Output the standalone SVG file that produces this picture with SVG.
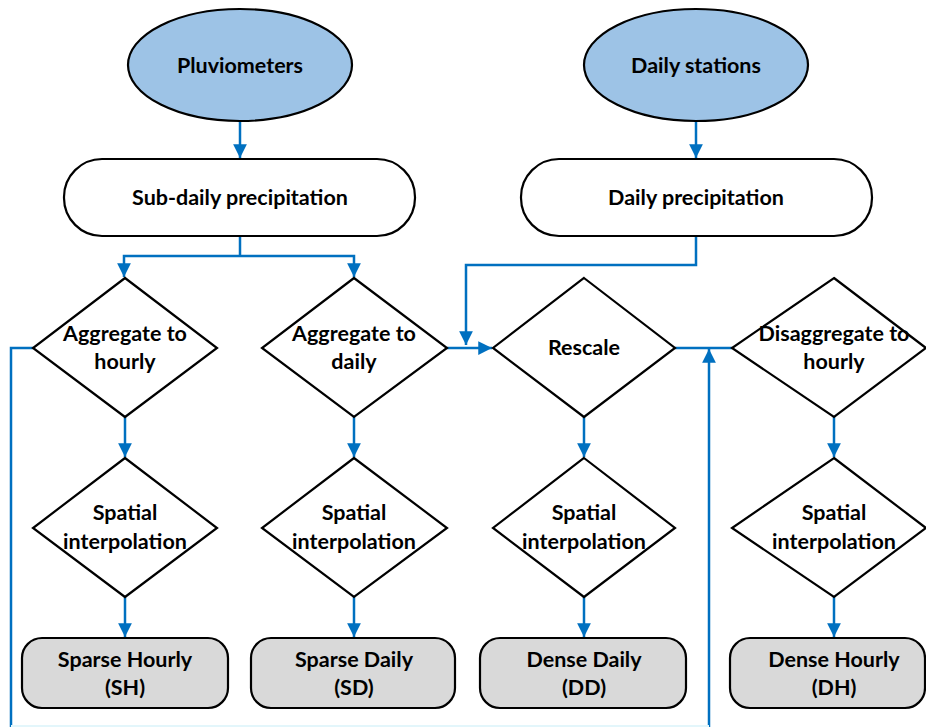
<svg xmlns="http://www.w3.org/2000/svg" width="926" height="727" viewBox="0 0 926 727">
<style>
.src{fill:#9dc3e6;stroke:#000;stroke-width:2.2}
.box{fill:#fff;stroke:#000;stroke-width:2.2}
.dia{fill:#fff;stroke:#000;stroke-width:2.2}
.res{fill:#d9d9d9;stroke:#000;stroke-width:2.2}
.lbl{font-family:Lato,"Open Sans","Liberation Sans",sans-serif;font-weight:bold;font-size:21.5px;fill:#000;text-anchor:middle}
.c{fill:none;stroke:#0070c0;stroke-width:2.5}
</style>
<defs>
<marker id="ah" viewBox="0 0 10 10" refX="10" refY="5" markerWidth="5.5" markerHeight="5.5" markerUnits="strokeWidth" orient="auto">
<path d="M0,0 L10,5 L0,10 z" fill="#0070c0"/>
</marker>
</defs>
<rect width="926" height="727" fill="#fff"/>
<g id="connectors">
<path class="c" d="M240,121 V158" marker-end="url(#ah)"/>
<path class="c" d="M696,121 V158" marker-end="url(#ah)"/>
<path class="c" d="M240,236 V256"/>
<path class="c" d="M240,256 H124 V277" marker-end="url(#ah)"/>
<path class="c" d="M240,256 H354 V277" marker-end="url(#ah)"/>
<path class="c" d="M696,236 V265 H466 V345" marker-end="url(#ah)"/>
<path class="c" d="M447,348 H492" marker-end="url(#ah)"/>
<path class="c" d="M675,348 H732"/>
<path class="c" d="M125,417 V457" marker-end="url(#ah)"/>
<path class="c" d="M354,417 V457" marker-end="url(#ah)"/>
<path class="c" d="M584,417 V457" marker-end="url(#ah)"/>
<path class="c" d="M834,417 V457" marker-end="url(#ah)"/>
<path class="c" d="M125,597 V637" marker-end="url(#ah)"/>
<path class="c" d="M354,597 V637" marker-end="url(#ah)"/>
<path class="c" d="M584,597 V637" marker-end="url(#ah)"/>
<path class="c" d="M834,597 V637" marker-end="url(#ah)"/>
<path class="c" d="M33,348 H11 V727"/>
<path class="c" d="M709,727 V349" marker-end="url(#ah)"/>
<line x1="11" y1="726" x2="709" y2="726" stroke="#e3f6fb" stroke-width="2"/>
</g>
<g id="pluviometers">
<ellipse class="src" cx="240" cy="65" rx="112" ry="56"/>
<text class="lbl" x="240" y="73">Pluviometers</text>
</g>
<g id="daily-stations">
<ellipse class="src" cx="696" cy="65" rx="112" ry="56"/>
<text class="lbl" x="696" y="73">Daily stations</text>
</g>
<g id="sub-daily-precipitation">
<rect class="box" x="64" y="159" width="351" height="77" rx="38"/>
<text class="lbl" x="240" y="205">Sub-daily precipitation</text>
</g>
<g id="daily-precipitation">
<rect class="box" x="521" y="159" width="351" height="77" rx="38"/>
<text class="lbl" x="696" y="205">Daily precipitation</text>
</g>
<g id="aggregate-hourly">
<polygon class="dia" points="125,278 217,348 125,417 33,348"/>
<text class="lbl" x="125" y="341">Aggregate to</text>
<text class="lbl" x="125" y="369">hourly</text>
</g>
<g id="aggregate-daily">
<polygon class="dia" points="354,278 447,348 354,417 262,348"/>
<text class="lbl" x="354" y="341">Aggregate to</text>
<text class="lbl" x="354" y="369">daily</text>
</g>
<g id="rescale">
<polygon class="dia" points="584,278 675,348 584,417 493,348"/>
<text class="lbl" x="584" y="355">Rescale</text>
</g>
<g id="disaggregate-hourly">
<polygon class="dia" points="834,278 926,348 834,417 732,348"/>
<text class="lbl" x="834" y="341">Disaggregate to</text>
<text class="lbl" x="834" y="369">hourly</text>
</g>
<g id="spatial-sh">
<polygon class="dia" points="125,458 217,528 125,597 33,528"/>
<text class="lbl" x="125" y="520">Spatial</text>
<text class="lbl" x="125" y="549">interpolation</text>
</g>
<g id="spatial-sd">
<polygon class="dia" points="354,458 447,528 354,597 262,528"/>
<text class="lbl" x="354" y="520">Spatial</text>
<text class="lbl" x="354" y="549">interpolation</text>
</g>
<g id="spatial-dd">
<polygon class="dia" points="584,458 675,528 584,597 493,528"/>
<text class="lbl" x="584" y="520">Spatial</text>
<text class="lbl" x="584" y="549">interpolation</text>
</g>
<g id="spatial-dh">
<polygon class="dia" points="834,458 926,528 834,597 732,528"/>
<text class="lbl" x="834" y="520">Spatial</text>
<text class="lbl" x="834" y="549">interpolation</text>
</g>
<g id="sparse-hourly">
<rect class="res" x="22" y="638" width="206" height="70" rx="20"/>
<text class="lbl" x="125" y="667">Sparse Hourly</text>
<text class="lbl" x="125" y="695">(SH)</text>
</g>
<g id="sparse-daily">
<rect class="res" x="251" y="638" width="204" height="70" rx="20"/>
<text class="lbl" x="354" y="667">Sparse Daily</text>
<text class="lbl" x="354" y="695">(SD)</text>
</g>
<g id="dense-daily">
<rect class="res" x="480" y="638" width="206" height="70" rx="20"/>
<text class="lbl" x="584" y="667">Dense Daily</text>
<text class="lbl" x="584" y="695">(DD)</text>
</g>
<g id="dense-hourly">
<rect class="res" x="730" y="638" width="195" height="70" rx="20"/>
<text class="lbl" x="834" y="667">Dense Hourly</text>
<text class="lbl" x="834" y="695">(DH)</text>
</g>
</svg>
